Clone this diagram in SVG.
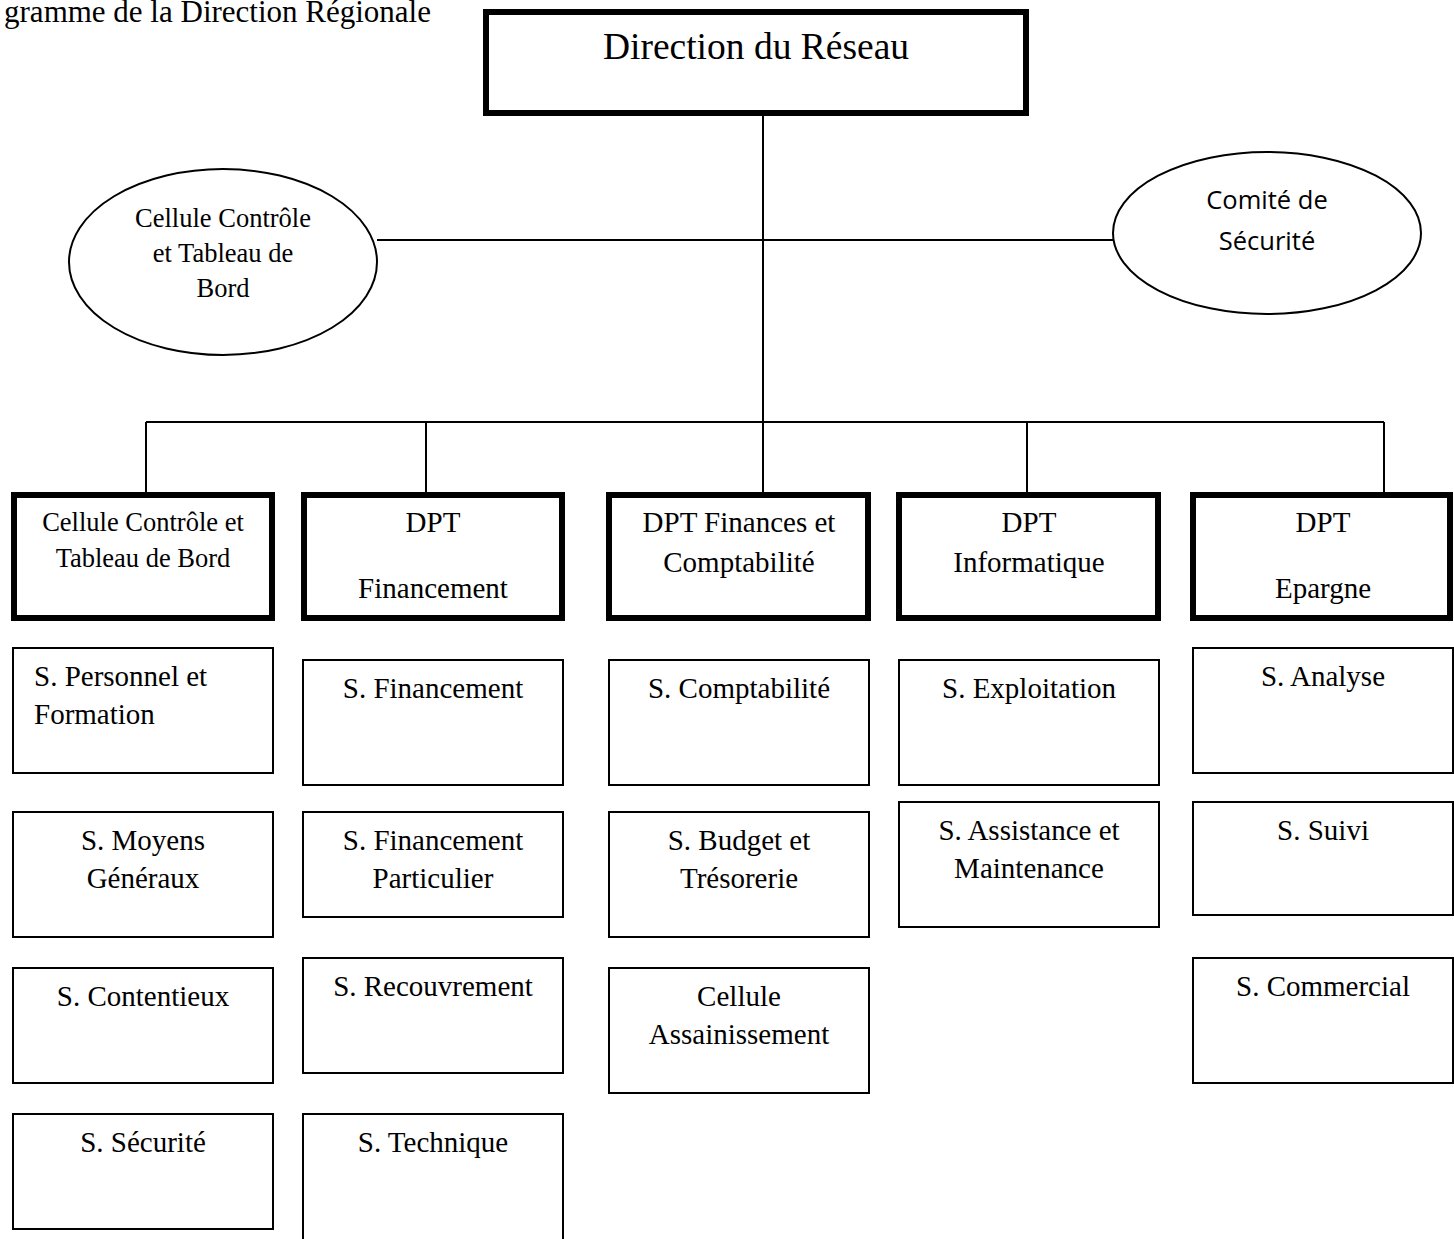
<svg xmlns="http://www.w3.org/2000/svg" width="1454" height="1239" viewBox="0 0 1454 1239">
  <style>
    .bg { fill: #ffffff; }
    .serif { font-family: "Liberation Serif", "Times New Roman", serif; fill: #000; }
    .sans { font-family: "Open Sans", "Liberation Sans", sans-serif; fill: #000; }
    .mid { text-anchor: middle; }
    .head { fill: #fff; stroke: #000; stroke-width: 6; }
    .dept { fill: #fff; stroke: #000; stroke-width: 6; }
    .svc { fill: #fff; stroke: #000; stroke-width: 2; }
    .oval { fill: #fff; stroke: #000; stroke-width: 2; }
    .wire { fill: none; stroke: #000; stroke-width: 2; }
    .t-oval { font-size: 26.5px; }
    .t-dept { font-size: 29px; }
    .t-cell { font-size: 26.5px; }
    .t-svc { font-size: 29px; }
  </style>

  <rect class="bg" x="0" y="0" width="1454" height="1239"/>

  <!-- page caption, cut at the left edge -->
  <text class="serif" x="431" y="22" text-anchor="end" font-size="31">gramme de la Direction Régionale</text>

  <!-- connectors -->
  <g id="connectors">
    <line class="wire" x1="763" y1="116" x2="763" y2="493"/>
    <line class="wire" x1="377" y1="240" x2="1113" y2="240"/>
    <line class="wire" x1="146" y1="422" x2="1384" y2="422"/>
    <line class="wire" x1="146" y1="422" x2="146" y2="493"/>
    <line class="wire" x1="426" y1="422" x2="426" y2="493"/>
    <line class="wire" x1="1027" y1="422" x2="1027" y2="493"/>
    <line class="wire" x1="1384" y1="422" x2="1384" y2="493"/>
  </g>

  <!-- top level -->
  <g id="direction-reseau">
    <rect class="head" x="486" y="12" width="540" height="101"/>
    <text class="serif mid" x="756" y="59" font-size="37.5">Direction du Réseau</text>
  </g>

  <!-- attached units -->
  <g id="cellule-controle-ovale">
    <ellipse class="oval" cx="223" cy="262" rx="154" ry="93"/>
    <text class="serif mid t-oval" x="223" y="227">Cellule Contrôle</text>
    <text class="serif mid t-oval" x="223" y="262">et Tableau de</text>
    <text class="serif mid t-oval" x="223" y="297">Bord</text>
  </g>
  <g id="comite-securite">
    <ellipse class="oval" cx="1267" cy="233" rx="154" ry="81"/>
    <text class="sans mid" x="1267" y="209" font-size="25.5">Comité de</text>
    <text class="sans mid" x="1267" y="250" font-size="25.5">Sécurité</text>
  </g>

  <!-- departments -->
  <g id="dept-cellule-controle">
    <rect class="dept" x="14" y="495" width="258" height="123"/>
    <text class="serif mid t-cell" x="143" y="531">Cellule Contrôle et</text>
    <text class="serif mid t-cell" x="143" y="567">Tableau de Bord</text>
  </g>
  <g id="dept-financement">
    <rect class="dept" x="304" y="495" width="258" height="123"/>
    <text class="serif mid t-dept" x="433" y="532">DPT</text>
    <text class="serif mid t-dept" x="433" y="598">Financement</text>
  </g>
  <g id="dept-finances-comptabilite">
    <rect class="dept" x="609" y="495" width="259" height="123"/>
    <text class="serif mid t-dept" x="739" y="532">DPT Finances et</text>
    <text class="serif mid t-dept" x="739" y="572">Comptabilité</text>
  </g>
  <g id="dept-informatique">
    <rect class="dept" x="899" y="495" width="259" height="123"/>
    <text class="serif mid t-dept" x="1029" y="532">DPT</text>
    <text class="serif mid t-dept" x="1029" y="572">Informatique</text>
  </g>
  <g id="dept-epargne">
    <rect class="dept" x="1193" y="495" width="257" height="123"/>
    <text class="serif mid t-dept" x="1323" y="532">DPT</text>
    <text class="serif mid t-dept" x="1323" y="598">Epargne</text>
  </g>

  <!-- services: column 1 -->
  <g id="s-personnel-formation">
    <rect class="svc" x="13" y="648" width="260" height="125"/>
    <text class="serif t-svc" x="34" y="686">S. Personnel et</text>
    <text class="serif t-svc" x="34" y="724">Formation</text>
  </g>
  <g id="s-moyens-generaux">
    <rect class="svc" x="13" y="812" width="260" height="125"/>
    <text class="serif mid t-svc" x="143" y="850">S. Moyens</text>
    <text class="serif mid t-svc" x="143" y="888">Généraux</text>
  </g>
  <g id="s-contentieux">
    <rect class="svc" x="13" y="968" width="260" height="115"/>
    <text class="serif mid t-svc" x="143" y="1006">S. Contentieux</text>
  </g>
  <g id="s-securite">
    <rect class="svc" x="13" y="1114" width="260" height="115"/>
    <text class="serif mid t-svc" x="143" y="1152">S. Sécurité</text>
  </g>

  <!-- services: column 2 -->
  <g id="s-financement">
    <rect class="svc" x="303" y="660" width="260" height="125"/>
    <text class="serif mid t-svc" x="433" y="698">S. Financement</text>
  </g>
  <g id="s-financement-particulier">
    <rect class="svc" x="303" y="812" width="260" height="105"/>
    <text class="serif mid t-svc" x="433" y="850">S. Financement</text>
    <text class="serif mid t-svc" x="433" y="888">Particulier</text>
  </g>
  <g id="s-recouvrement">
    <rect class="svc" x="303" y="958" width="260" height="115"/>
    <text class="serif mid t-svc" x="433" y="996">S. Recouvrement</text>
  </g>
  <g id="s-technique">
    <rect class="svc" x="303" y="1114" width="260" height="140"/>
    <text class="serif mid t-svc" x="433" y="1152">S. Technique</text>
  </g>

  <!-- services: column 3 -->
  <g id="s-comptabilite">
    <rect class="svc" x="609" y="660" width="260" height="125"/>
    <text class="serif mid t-svc" x="739" y="698">S. Comptabilité</text>
  </g>
  <g id="s-budget-tresorerie">
    <rect class="svc" x="609" y="812" width="260" height="125"/>
    <text class="serif mid t-svc" x="739" y="850">S. Budget et</text>
    <text class="serif mid t-svc" x="739" y="888">Trésorerie</text>
  </g>
  <g id="cellule-assainissement">
    <rect class="svc" x="609" y="968" width="260" height="125"/>
    <text class="serif mid t-svc" x="739" y="1006">Cellule</text>
    <text class="serif mid t-svc" x="739" y="1044">Assainissement</text>
  </g>

  <!-- services: column 4 -->
  <g id="s-exploitation">
    <rect class="svc" x="899" y="660" width="260" height="125"/>
    <text class="serif mid t-svc" x="1029" y="698">S. Exploitation</text>
  </g>
  <g id="s-assistance-maintenance">
    <rect class="svc" x="899" y="802" width="260" height="125"/>
    <text class="serif mid t-svc" x="1029" y="840">S. Assistance et</text>
    <text class="serif mid t-svc" x="1029" y="878">Maintenance</text>
  </g>

  <!-- services: column 5 -->
  <g id="s-analyse">
    <rect class="svc" x="1193" y="648" width="260" height="125"/>
    <text class="serif mid t-svc" x="1323" y="686">S. Analyse</text>
  </g>
  <g id="s-suivi">
    <rect class="svc" x="1193" y="802" width="260" height="113"/>
    <text class="serif mid t-svc" x="1323" y="840">S. Suivi</text>
  </g>
  <g id="s-commercial">
    <rect class="svc" x="1193" y="958" width="260" height="125"/>
    <text class="serif mid t-svc" x="1323" y="996">S. Commercial</text>
  </g>
</svg>
